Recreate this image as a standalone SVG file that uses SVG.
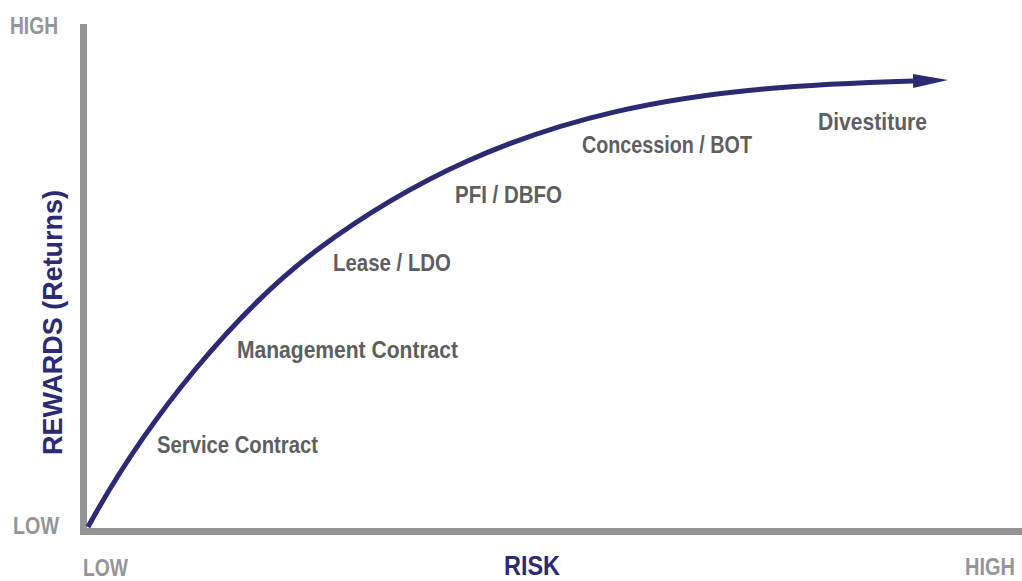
<svg xmlns="http://www.w3.org/2000/svg" width="1022" height="581" viewBox="0 0 1022 581">
<style>
.axis{stroke:#939598;stroke-width:7;fill:none}
.curve{stroke:#2b2a72;stroke-width:5;fill:none}
.lbl{font-family:"Liberation Sans",Arial,sans-serif;font-weight:bold;font-size:24px;fill:#5d5e60}
.ax{font-family:"Liberation Sans",Arial,sans-serif;font-weight:bold;font-size:23px;fill:#939598}
.title{font-family:"Liberation Sans",Arial,sans-serif;font-weight:bold;font-size:27px;fill:#2b2a72}
</style>
<defs>
<marker id="arrow" markerUnits="userSpaceOnUse" markerWidth="36" markerHeight="16" refX="0" refY="7" orient="auto">
<path d="M0,0 L35,7 L0,14 z" fill="#2b2a72"/>
</marker>
</defs>
<g id="axes">
<line class="axis" x1="83.5" y1="24" x2="83.5" y2="535"/>
<line class="axis" x1="80" y1="531.5" x2="1022" y2="531.5"/>
</g>
<g id="axis-labels">
<text class="ax" x="10" y="34" textLength="48" lengthAdjust="spacingAndGlyphs">HIGH</text>
<text class="ax" x="13" y="534" textLength="46" lengthAdjust="spacingAndGlyphs">LOW</text>
<text class="ax" x="83" y="576" textLength="45" lengthAdjust="spacingAndGlyphs">LOW</text>
<text class="ax" x="965" y="575" textLength="50" lengthAdjust="spacingAndGlyphs">HIGH</text>
<text class="title" x="504" y="575" textLength="56" lengthAdjust="spacingAndGlyphs">RISK</text>
<text class="title" transform="translate(62,455) rotate(-90)" x="0" y="0" textLength="265" lengthAdjust="spacingAndGlyphs">REWARDS (Returns)</text>
</g>
<g id="connectors">
<path class="curve" d="M88,527 C148,417 237,310 317,250 C517,101 713,87 913,81" marker-end="url(#arrow)"/>
</g>
<g id="node-service"><text class="lbl" x="157" y="453" textLength="161" lengthAdjust="spacingAndGlyphs">Service Contract</text></g>
<g id="node-management"><text class="lbl" x="237" y="358" textLength="221" lengthAdjust="spacingAndGlyphs">Management Contract</text></g>
<g id="node-lease"><text class="lbl" x="333" y="271" textLength="118" lengthAdjust="spacingAndGlyphs">Lease / LDO</text></g>
<g id="node-pfi"><text class="lbl" x="455" y="203" textLength="107" lengthAdjust="spacingAndGlyphs">PFI / DBFO</text></g>
<g id="node-concession"><text class="lbl" x="582" y="153" textLength="170" lengthAdjust="spacingAndGlyphs">Concession / BOT</text></g>
<g id="node-divestiture"><text class="lbl" x="818" y="130" textLength="109" lengthAdjust="spacingAndGlyphs">Divestiture</text></g>
</svg>
